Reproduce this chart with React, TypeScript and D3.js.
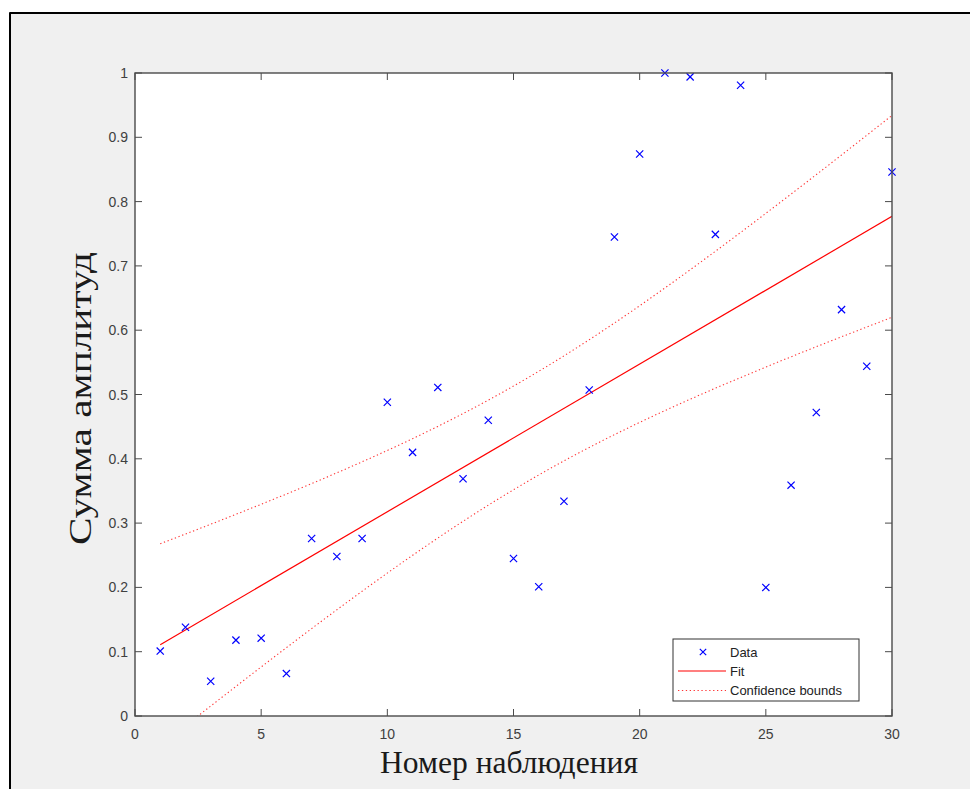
import React from "react";
import * as d3 from "d3";

const observations: number[] = Array.from({ length: 30 }, (_, i) => i + 1);
const amplitudes: number[] = [
  0.101, 0.138, 0.054, 0.118, 0.121, 0.066, 0.276, 0.248, 0.276, 0.488,
  0.410, 0.511, 0.369, 0.460, 0.245, 0.201, 0.334, 0.507, 0.745, 0.874,
  1.000, 0.994, 0.749, 0.981, 0.200, 0.359, 0.472, 0.632, 0.544, 0.846,
];
const xTicks: number[] = [0, 5, 10, 15, 20, 25, 30];
const yTicks: number[] = [0, 0.1, 0.2, 0.3, 0.4, 0.5, 0.6, 0.7, 0.8, 0.9, 1];
const legendLabels: string[] = ["Data", "Fit", "Confidence bounds"];
const xLabel = "Номер наблюдения";
const yLabel = "Сумма амплитуд";
const T_CRIT = 2.048; // t(0.975, n-2 = 28)

const W = 970;
const H = 789;
const L = 135, R = 892, T = 73, B = 716;

function regression(xs: number[], ys: number[]) {
  const n = xs.length;
  const mx = d3.mean(xs)!;
  const my = d3.mean(ys)!;
  let sxx = 0, sxy = 0;
  for (let i = 0; i < n; i++) {
    sxx += (xs[i] - mx) ** 2;
    sxy += (xs[i] - mx) * (ys[i] - my);
  }
  const b = sxy / sxx;
  const a = my - b * mx;
  let sse = 0;
  for (let i = 0; i < n; i++) sse += (ys[i] - (a + b * xs[i])) ** 2;
  const s = Math.sqrt(sse / (n - 2));
  return { a, b, s, mx, sxx, n };
}

export default function App() {
  const x = d3.scaleLinear().domain([0, 30]).range([L, R]);
  const y = d3.scaleLinear().domain([0, 1]).range([B, T]);
  const reg = regression(observations, amplitudes);
  const fit = (v: number) => reg.a + reg.b * v;
  const hw = (v: number) =>
    T_CRIT * reg.s * Math.sqrt(1 / reg.n + (v - reg.mx) ** 2 / reg.sxx);
  const xMin = d3.min(observations)!;
  const xMax = d3.max(observations)!;
  const grid = d3.range(xMin, xMax + 0.0001, 0.25);
  const line = d3
    .line<[number, number]>()
    .x((d) => x(d[0]))
    .y((d) => y(d[1]));
  const fitPath = line([[xMin, fit(xMin)], [xMax, fit(xMax)]])!;
  const upPath = line(grid.map((v) => [v, fit(v) + hw(v)] as [number, number]))!;
  const loPath = line(grid.map((v) => [v, fit(v) - hw(v)] as [number, number]))!;

  const axisColor = "#4a4a4a";
  const tickColor = "#404040";
  const tick = 7;
  const ms = 3.6;
  const sans = "'Liberation Sans', Arial, sans-serif";
  const serif = "'Liberation Serif', 'Times New Roman', serif";

  const lgX = 673, lgY = 639, lgW = 186, lgH = 62;
  const rows = [652, 671, 690.5];

  return (
    <svg
      width={W}
      height={H}
      style={{ position: "absolute", left: 0, top: 0, display: "block" }}
    >
      <rect x={0} y={0} width={W} height={H} fill="#ffffff" />
      <rect x={10} y={13} width={W - 10} height={H - 13} fill="#f0f0f0" />
      <line x1={9.5} y1={13} x2={W} y2={13} stroke="#000" strokeWidth={2} />
      <line x1={10} y1={12.5} x2={10} y2={H} stroke="#000" strokeWidth={2} />

      <defs>
        <clipPath id="axclip">
          <rect x={L} y={T} width={R - L} height={B - T} />
        </clipPath>
      </defs>
      <rect x={L} y={T} width={R - L} height={B - T} fill="#fff" />

      {/* ticks */}
      {xTicks.map((t) => (
        <g key={"xt" + t}>
          <line x1={x(t)} x2={x(t)} y1={B} y2={B - tick} stroke={axisColor} strokeWidth={1} />
          <line x1={x(t)} x2={x(t)} y1={T} y2={T + tick} stroke={axisColor} strokeWidth={1} />
          <text
            x={x(t)}
            y={B + 23}
            textAnchor="middle"
            fontFamily={sans}
            fontSize={14}
            fill={tickColor}
          >
            {t}
          </text>
        </g>
      ))}
      {yTicks.map((t) => (
        <g key={"yt" + t}>
          <line x1={L} x2={L + tick} y1={y(t)} y2={y(t)} stroke={axisColor} strokeWidth={1} />
          <line x1={R} x2={R - tick} y1={y(t)} y2={y(t)} stroke={axisColor} strokeWidth={1} />
          <text
            x={L - 7}
            y={y(t) + 5}
            textAnchor="end"
            fontFamily={sans}
            fontSize={14}
            fill={tickColor}
          >
            {t}
          </text>
        </g>
      ))}

      <g clipPath="url(#axclip)">
        <path d={upPath} fill="none" stroke="#ff3333" strokeWidth={1.1} strokeDasharray="1.3 2.6" />
        <path d={loPath} fill="none" stroke="#ff3333" strokeWidth={1.1} strokeDasharray="1.3 2.6" />
        <path d={fitPath} fill="none" stroke="#ff0000" strokeWidth={1.2} />
      </g>

      {observations.map((o, i) => {
        const cx = x(o), cy = y(amplitudes[i]);
        return (
          <path
            key={"p" + i}
            d={`M${cx - ms},${cy - ms}L${cx + ms},${cy + ms}M${cx - ms},${cy + ms}L${cx + ms},${cy - ms}`}
            stroke="#0000ff"
            strokeWidth={1.2}
            fill="none"
          />
        );
      })}

      <rect x={L} y={T} width={R - L} height={B - T} fill="none" stroke={axisColor} strokeWidth={1.4} />

      {/* legend */}
      <rect x={lgX} y={lgY} width={lgW} height={lgH} fill="#fff" stroke="#333" strokeWidth={1} />
      <path
        d={`M${703 - 3.2},${rows[0] - 3.2}L${703 + 3.2},${rows[0] + 3.2}M${703 - 3.2},${rows[0] + 3.2}L${703 + 3.2},${rows[0] - 3.2}`}
        stroke="#0000ff"
        strokeWidth={1.2}
      />
      <line x1={678} x2={726} y1={rows[1]} y2={rows[1]} stroke="#ff0000" strokeWidth={1.2} />
      <line x1={678} x2={726} y1={rows[2]} y2={rows[2]} stroke="#ff3333" strokeWidth={1.1} strokeDasharray="1.3 2.6" />
      {legendLabels.map((lab, i) => (
        <text
          key={lab}
          x={730}
          y={rows[i] + 4.5}
          fontFamily={sans}
          fontSize={13}
          fill="#222"
        >
          {lab}
        </text>
      ))}

      <text
        x={509}
        y={773}
        textAnchor="middle"
        fontFamily={serif}
        fontSize={31}
        textLength={258}
        lengthAdjust="spacingAndGlyphs"
        fill="#1a1a1a"
      >
        {xLabel}
      </text>
      <text
        transform={`translate(91, ${398.5}) rotate(-90)`}
        textAnchor="middle"
        fontFamily={serif}
        fontSize={31}
        textLength={293}
        lengthAdjust="spacingAndGlyphs"
        fill="#1a1a1a"
      >
        {yLabel}
      </text>
    </svg>
  );
}
